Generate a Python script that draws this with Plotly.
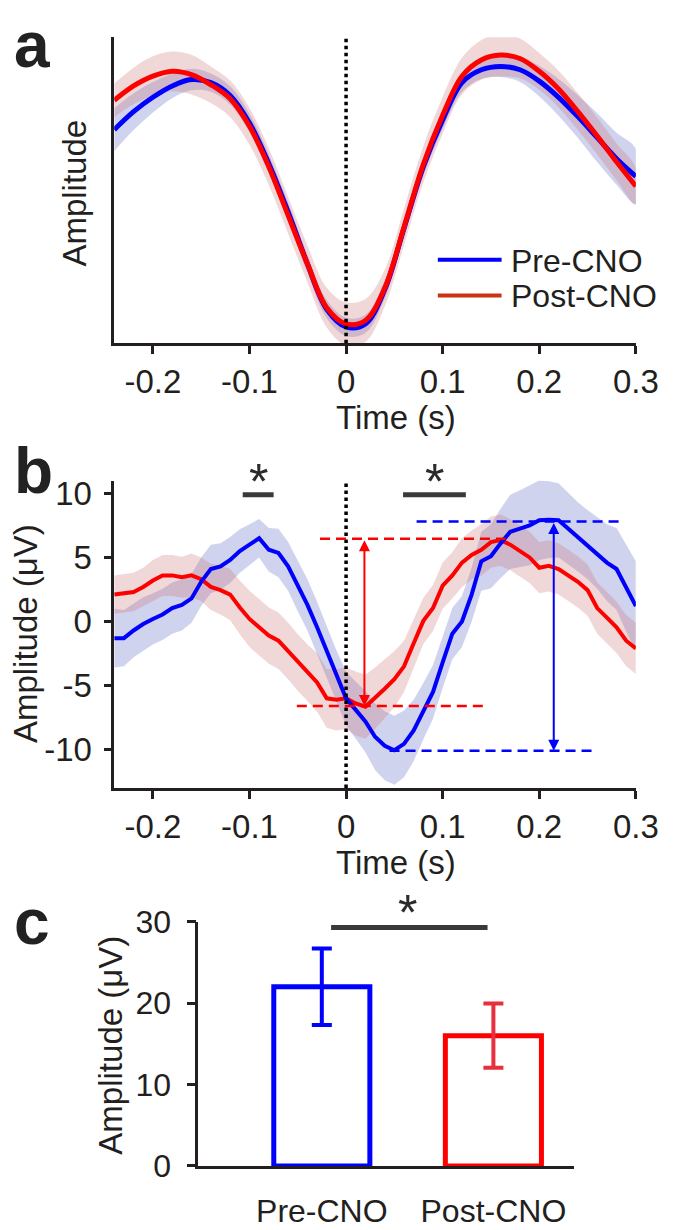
import plotly.graph_objects as go

# ---- panel a: normalised mean waveform (arbitrary units), every 20 ms ----
t_a = [-0.24, -0.22, -0.20, -0.18, -0.16, -0.14, -0.12, -0.10, -0.08, -0.06,
       -0.04, -0.02, 0.00, 0.02, 0.04, 0.06, 0.08, 0.10, 0.12, 0.14,
       0.16, 0.18, 0.20, 0.22, 0.24, 0.26, 0.28, 0.30]
pre_a = [0.698, 0.757, 0.804, 0.841, 0.862, 0.852, 0.810, 0.720, 0.587, 0.429,
         0.259, 0.111, 0.053, 0.063, 0.175, 0.376, 0.577, 0.730, 0.852, 0.894,
         0.905, 0.894, 0.857, 0.804, 0.741, 0.672, 0.603, 0.545]
post_a = [0.794, 0.841, 0.873, 0.889, 0.878, 0.845, 0.799, 0.709, 0.577, 0.418,
          0.259, 0.116, 0.063, 0.074, 0.180, 0.380, 0.585, 0.745, 0.873, 0.926,
          0.942, 0.931, 0.889, 0.831, 0.757, 0.677, 0.593, 0.513]
pre_a_sem = [0.07, 0.06, 0.05, 0.04, 0.035, 0.03, 0.03, 0.03, 0.03, 0.03,
             0.03, 0.03, 0.03, 0.03, 0.03, 0.03, 0.03, 0.03, 0.03, 0.03,
             0.035, 0.04, 0.05, 0.06, 0.07, 0.08, 0.085, 0.09]
post_a_sem = [0.055, 0.06, 0.065, 0.065, 0.065, 0.06, 0.06, 0.06, 0.06, 0.06,
              0.06, 0.065, 0.07, 0.07, 0.06, 0.06, 0.06, 0.06, 0.06, 0.065,
              0.07, 0.065, 0.06, 0.06, 0.06, 0.06, 0.06, 0.06]

# ---- panel b: mean LFP (uV), every 10 ms ----
t_b = [-0.24, -0.23, -0.22, -0.21, -0.20, -0.19, -0.18, -0.17, -0.16, -0.15,
       -0.14, -0.13, -0.12, -0.11, -0.10, -0.09, -0.08, -0.07, -0.06, -0.05,
       -0.04, -0.03, -0.02, -0.01, 0.00, 0.01, 0.02, 0.03, 0.04, 0.05,
       0.06, 0.07, 0.08, 0.09, 0.10, 0.11, 0.12, 0.13, 0.14, 0.15,
       0.16, 0.17, 0.18, 0.19, 0.20, 0.21, 0.22, 0.23, 0.24, 0.25,
       0.26, 0.27, 0.28, 0.29, 0.30]
pre_b = [-1.3, -1.3, -0.7, -0.2, 0.2, 0.55, 1.05, 1.3, 1.8, 3.1,
         4.1, 4.3, 4.8, 5.5, 6.0, 6.5, 5.6, 5.35, 4.3, 2.8,
         1.3, -0.45, -2.35, -4.25, -6.0, -6.9, -7.8, -9.0, -9.7, -10.05,
         -9.55, -8.5, -7.0, -5.5, -3.2, -0.95, 0.0, 2.1, 4.7, 5.1,
         6.1, 7.0, 7.25, 7.5, 7.9, 7.95, 7.9, 7.25, 6.6, 6.0,
         5.35, 4.6, 4.1, 2.6, 1.2]
post_b = [2.1, 2.2, 2.3, 2.7, 3.2, 3.6, 3.6, 3.45, 3.6, 3.3,
          2.7, 2.45, 2.1, 1.1, 0.2, -0.45, -1.1, -1.5, -2.3, -3.2,
          -4.0, -4.75, -6.0, -6.1, -6.0, -6.4, -6.65, -6.0, -5.25, -4.5,
          -3.5, -1.7, 0.05, 1.05, 2.8, 3.6, 4.6, 5.2, 5.6, 6.2,
          6.35, 6.0, 5.5, 5.0, 4.2, 4.35, 4.1, 3.6, 3.1, 2.45,
          1.05, 0.3, -0.45, -1.5, -2.1]
pre_b_sem = [2.3, 2.2, 2.1, 2.1, 2.0, 2.0, 2.0, 2.0, 1.9, 1.9,
             1.9, 1.8, 1.8, 1.7, 1.6, 1.5, 1.7, 1.9, 1.9, 2.0,
             2.0, 2.0, 2.0, 2.0, 2.1, 2.2, 2.4, 2.6, 2.7, 2.7,
             2.6, 2.4, 2.2, 2.1, 2.0, 2.0, 2.0, 2.1, 2.3, 2.5,
             2.7, 2.9, 3.0, 3.1, 3.1, 3.0, 2.9, 2.8, 2.7, 2.7,
             2.8, 3.0, 3.2, 3.4, 3.5]
post_b_sem = [1.5, 1.5, 1.5, 1.5, 1.6, 1.6, 1.6, 1.6, 1.7, 1.7,
              1.8, 1.9, 2.0, 2.1, 2.2, 2.2, 2.2, 2.2, 2.2, 2.2,
              2.2, 2.3, 2.3, 2.4, 2.4, 2.5, 2.5, 2.4, 2.3, 2.2,
              2.0, 1.9, 1.8, 1.8, 1.8, 1.8, 1.9, 1.9, 2.0, 2.0,
              2.0, 2.0, 2.0, 2.0, 2.0, 2.0, 2.0, 2.0, 2.0, 2.0,
              2.0, 2.0, 2.0, 2.0, 2.0]

# peak / trough levels marked in panel b
pre_peak, pre_trough = 7.8, -10.1
post_peak, post_trough = 6.45, -6.6
sig_windows_b = [(-0.107, -0.075), (0.059, 0.124)]
sig_level_b = 9.9

# ---- panel c: peak-to-trough amplitude (uV) ----
groups = ["Pre-CNO", "Post-CNO"]
amp_mean = [22.0, 16.0]
amp_err = [4.7, 3.95]
sig_level_c = 29.3

x_ticks = [-0.2, -0.1, 0, 0.1, 0.2, 0.3]
x_ticktext = ["-0.2", "-0.1", "0", "0.1", "0.2", "0.3"]
yb_ticks = [-10, -5, 0, 5, 10]
yb_ticktext = ["-10", "-5", "0", "5", "10"]
yc_ticks = [0, 10, 20, 30]

BLUE = "#0000ff"
RED = "#ff0000"
INK = "#231f20"
FONT = "Liberation Sans, Arial, sans-serif"
W, H = 675, 1230


def px(x):
    return x / W


def py(y):
    return 1 - y / H


def band(x, m, s, color, xa, ya, shape="linear"):
    up = [a + b for a, b in zip(m, s)]
    lo = [a - b for a, b in zip(m, s)]
    return go.Scatter(x=x + x[::-1], y=up + lo[::-1], fill="toself", fillcolor=color,
                      mode="lines", line=dict(width=0, shape=shape),
                      xaxis=xa, yaxis=ya, hoverinfo="skip", showlegend=False)


fig = go.Figure()

# panel a
fig.add_trace(band(t_a, pre_a, pre_a_sem, "rgba(100,110,200,0.30)", "x", "y", "spline"))
fig.add_trace(band(t_a, post_a, post_a_sem, "rgba(200,100,100,0.25)", "x", "y", "spline"))
fig.add_trace(go.Scatter(x=t_a, y=pre_a, mode="lines", line=dict(color=BLUE, width=5, shape="spline"),
                         xaxis="x", yaxis="y", name="Pre-CNO"))
fig.add_trace(go.Scatter(x=t_a, y=post_a, mode="lines", line=dict(color=RED, width=5, shape="spline"),
                         xaxis="x", yaxis="y", name="Post-CNO"))

# panel b
fig.add_trace(band(t_b, pre_b, pre_b_sem, "rgba(100,110,200,0.30)", "x2", "y2"))
fig.add_trace(band(t_b, post_b, post_b_sem, "rgba(200,100,100,0.25)", "x2", "y2"))
fig.add_trace(go.Scatter(x=t_b, y=post_b, mode="lines", line=dict(color=RED, width=4),
                         xaxis="x2", yaxis="y2"))
fig.add_trace(go.Scatter(x=t_b, y=pre_b, mode="lines", line=dict(color=BLUE, width=4),
                         xaxis="x2", yaxis="y2"))

# panel c
for i, (g, col, ecol) in enumerate([(groups[0], BLUE, BLUE), (groups[1], RED, "#e8303c")]):
    fig.add_trace(go.Bar(x=[i], y=[amp_mean[i]], width=0.56,
                         marker=dict(color="white", line=dict(color=col, width=5)),
                         error_y=dict(type="data", array=[amp_err[i]], color=ecol, thickness=4, width=10),
                         xaxis="x3", yaxis="y3", name=g))

axis_common = dict(showline=True, linecolor=INK, linewidth=2.5, ticks="outside", ticklen=8, tickwidth=2.5,
                   tickcolor=INK, showgrid=False, zeroline=False,
                   tickfont=dict(size=33, color=INK, family=FONT))

fig.update_layout(
    width=W, height=H, margin=dict(l=0, r=0, t=0, b=0),
    paper_bgcolor="white", plot_bgcolor="white", showlegend=False,
    font=dict(family=FONT, color=INK),
    xaxis=dict(axis_common, domain=[px(110), px(650)], range=[-0.24, 0.3], tickvals=x_ticks,
               ticktext=x_ticktext, anchor="y"),
    yaxis=dict(axis_common, domain=[py(326.7), py(11.7)], range=[0, 1], ticks="", showticklabels=False,
               anchor="x"),
    xaxis2=dict(axis_common, domain=[px(110), px(650)], range=[-0.24, 0.3], tickvals=x_ticks,
                ticktext=x_ticktext, anchor="y2"),
    yaxis2=dict(axis_common, domain=[py(785), py(468.3)], range=[-13, 11], tickvals=yb_ticks,
                ticktext=yb_ticktext, anchor="x2", ticklabelstandoff=5),
    xaxis3=dict(axis_common, domain=[px(197), px(586)], range=[-0.72, 1.47], tickvals=[0, 1],
                ticktext=groups, ticks="", anchor="y3", ticklabelstandoff=15,
                tickfont=dict(size=32, color=INK, family=FONT)),
    yaxis3=dict(axis_common, domain=[py(1174.3), py(922.7)], range=[0, 30], tickvals=yc_ticks,
                anchor="x3", ticklen=9, ticklabelstandoff=9,
                tickfont=dict(size=32, color=INK, family=FONT)),
)

shapes = []
# dotted t=0 lines
for xa, ya in [("x", "y"), ("x2", "y2")]:
    shapes.append(dict(type="line", xref=xa, yref=ya + " domain", x0=0, x1=0, y0=0, y1=1,
                       line=dict(color="black", width=3.5, dash="dot")))
# peak / trough dashed guides
dash = "10px,6px"
shapes += [
    dict(type="line", xref="x2", yref="y2", x0=-0.027, x1=0.165, y0=post_peak, y1=post_peak,
         line=dict(color=RED, width=2.5, dash=dash)),
    dict(type="line", xref="x2", yref="y2", x0=-0.051, x1=0.143, y0=post_trough, y1=post_trough,
         line=dict(color=RED, width=2.5, dash=dash)),
    dict(type="line", xref="x2", yref="y2", x0=0.073, x1=0.288, y0=pre_peak, y1=pre_peak,
         line=dict(color=BLUE, width=2.5, dash=dash)),
    dict(type="line", xref="x2", yref="y2", x0=0.045, x1=0.255, y0=pre_trough, y1=pre_trough,
         line=dict(color=BLUE, width=2.5, dash=dash)),
]
# significance bars
for a, b in sig_windows_b:
    shapes.append(dict(type="line", xref="x2", yref="y2", x0=a, x1=b, y0=sig_level_b, y1=sig_level_b,
                       line=dict(color="#3a3a3a", width=5)))
shapes.append(dict(type="line", xref="x3", yref="y3", x0=0.054, x1=0.966, y0=sig_level_c, y1=sig_level_c,
                   line=dict(color="#3a3a3a", width=5)))
# legend samples (panel a)
shapes.append(dict(type="line", xref="paper", yref="paper", x0=px(445), x1=px(511), y0=py(240.7), y1=py(240.7),
                   line=dict(color=BLUE, width=4)))
shapes.append(dict(type="line", xref="paper", yref="paper", x0=px(445), x1=px(511), y0=py(277.7), y1=py(277.7),
                   line=dict(color="#cc3311", width=4)))
fig.update_layout(shapes=shapes)

ann = []
# arrows
for xpos, top, bot, col in [(0.019, post_peak, post_trough, RED), (0.215, pre_peak, pre_trough, BLUE)]:
    ann.append(dict(x=xpos, y=bot, ax=xpos, ay=top, xref="x2", yref="y2", axref="x2", ayref="y2",
                    text="", showarrow=True, arrowside="end+start", arrowhead=2, arrowsize=1.1,
                    arrowwidth=2, arrowcolor=col, standoff=0, startstandoff=0))
# stars above the significance bars
star_font = dict(size=50, color="#2b2b2b", family=FONT)
for a, b in sig_windows_b:
    ann.append(dict(x=(a + b) / 2, y=sig_level_b, xref="x2", yref="y2", text="*", showarrow=False,
                    yshift=13, font=star_font))
ann.append(dict(x=0.5, y=sig_level_c, xref="x3", yref="y3", text="*", showarrow=False, yshift=14,
                font=star_font))
# axis titles
tfont = dict(size=33, color=INK, family=FONT)
for text, x, y, ang in [("Amplitude", 69, 172, -90), ("Time (s)", 402, 403, 0),
                        ("Amplitude (μV)", 18, 626, -90), ("Time (s)", 402, 862, 0),
                        ("Amplitude (μV)", 106, 1050, -90)]:
    ann.append(dict(text=text, x=px(x), y=py(y), xref="paper", yref="paper", showarrow=False,
                    textangle=ang, font=tfont, xanchor="center", yanchor="middle"))
# legend text
for text, y in [("Pre-CNO", 242), ("Post-CNO", 278)]:
    ann.append(dict(text=text, x=px(519), y=py(y), xref="paper", yref="paper", showarrow=False,
                    font=dict(size=32, color=INK, family=FONT), xanchor="left", yanchor="middle"))
# panel letters
for text, y in [("a", 20), ("b", 458), ("c", 923)]:
    ann.append(dict(text="<b>%s</b>" % text, x=px(4), y=py(y), xref="paper", yref="paper", showarrow=False,
                    font=dict(size=64, color="#222222", family=FONT), xanchor="left", yanchor="middle"))
fig.update_layout(annotations=ann)

fig.write_html("out.html")
